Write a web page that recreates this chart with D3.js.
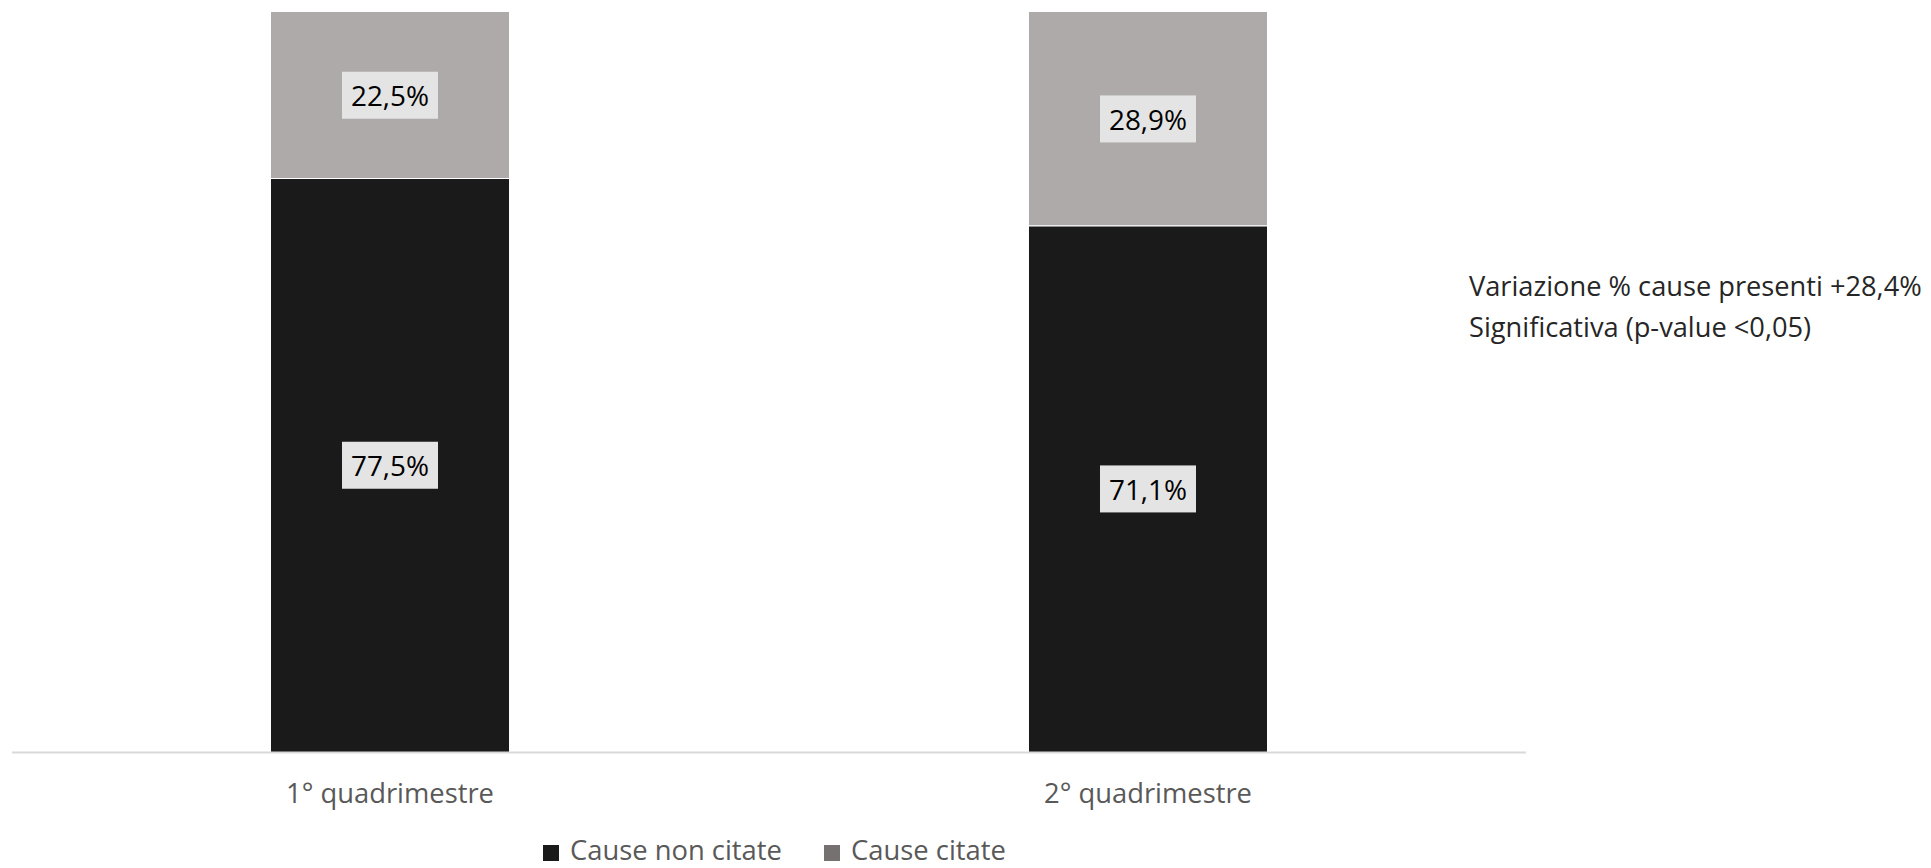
<!DOCTYPE html>
<html><head><meta charset="utf-8">
<script src="https://cdn.jsdelivr.net/npm/d3@7"></script>
<style>html,body{margin:0;padding:0;background:#fff;}svg{display:block;}</style>
</head><body>
<svg id="c" width="1931" height="868"></svg>
<script>
const categories = ["1° quadrimestre", "2° quadrimestre"];
const seriesNames = ["Cause non citate", "Cause citate"];
const nonCitate = [77.5, 71.1];
const citate = [22.5, 28.9];
const labelsNonCitate = ["77,5%", "71,1%"];
const labelsCitate = ["22,5%", "28,9%"];
const noteLines = ["Variazione % cause presenti +28,4%", "Significativa (p-value <0,05)"];

const FONT = "'Open Sans', sans-serif";
const svg = d3.select("#c");
const x = d3.scaleBand().domain(categories).range([12, 1526]).paddingInner(0.686).paddingOuter(0.3417);
const y = d3.scaleLinear().domain([0, 100]).range([752, 12]);
const colors = ["#1a1a1a", "#aeaaaa"];
const legendColors = ["#1a1a1a", "#767171"];

function fit(sel, w) {
  sel.each(function() {
    const fs = parseFloat(this.getAttribute("font-size"));
    const cur = this.getComputedTextLength();
    if (cur > 0) this.setAttribute("font-size", (fs * w / cur).toFixed(2));
  });
  return sel;
}

const rows = categories.map((c, i) => ({cat: c, nonCitate: nonCitate[i], citate: citate[i]}));
const stack = d3.stack().keys(["nonCitate", "citate"])(rows);
const labels = [labelsNonCitate, labelsCitate];

stack.forEach((layer, li) => {
  svg.append("g").selectAll("rect").data(layer).join("rect")
    .attr("x", d => x(d.data.cat))
    .attr("width", x.bandwidth())
    .attr("y", d => y(d[1]))
    .attr("height", d => y(d[0]) - y(d[1]))
    .attr("fill", colors[li]);
});
svg.append("g").selectAll("line").data(stack[0]).join("line")
  .attr("x1", d => x(d.data.cat)).attr("x2", d => x(d.data.cat) + x.bandwidth())
  .attr("y1", d => y(d[1])).attr("y2", d => y(d[1]))
  .attr("stroke", "#fff").attr("stroke-width", 1.2);

svg.append("line").attr("x1", 12).attr("x2", 1526).attr("y1", 752.5).attr("y2", 752.5)
  .attr("stroke", "#d9d9d9").attr("stroke-width", 2);

stack.forEach((layer, li) => {
  layer.forEach((d, i) => {
    const cx = x(d.data.cat) + x.bandwidth() / 2;
    const cy = (y(d[0]) + y(d[1])) / 2;
    svg.append("rect").attr("x", cx - 48).attr("y", cy - 23.5).attr("width", 96).attr("height", 47).attr("fill", "#e4e4e4");
    const t = svg.append("text").attr("x", cx).attr("y", cy + 11)
      .attr("text-anchor", "middle").attr("font-family", FONT).attr("font-size", 28)
      .attr("fill", "#000").text(labels[li][i]);
    fit(t, 78);
  });
});

const cl = svg.append("g").selectAll("text").data(categories).join("text")
  .attr("x", d => x(d) + x.bandwidth() / 2).attr("y", 803)
  .attr("text-anchor", "middle").attr("font-family", FONT).attr("font-size", 27)
  .attr("fill", "#595959").text(d => d);
fit(cl, 208);

const legX = [543, 824];
const legW = [212, 155];
seriesNames.forEach((n, i) => {
  svg.append("rect").attr("x", legX[i]).attr("y", 845).attr("width", 16).attr("height", 16).attr("fill", legendColors[i]);
  const t = svg.append("text").attr("x", legX[i] + 27).attr("y", 860).attr("font-family", FONT).attr("font-size", 25)
    .attr("fill", "#595959").text(n);
  fit(t, legW[i]);
});

const notes = svg.append("g").selectAll("text").data(noteLines).join("text")
  .attr("x", 1469).attr("y", (d, i) => 296 + i * 41)
  .attr("font-family", FONT).attr("font-size", 27).attr("fill", "#262626").text(d => d);
fit(notes.filter((d, i) => i === 0), 453);
notes.attr("font-size", notes.nodes()[0].getAttribute("font-size"));
</script>
</body></html>
